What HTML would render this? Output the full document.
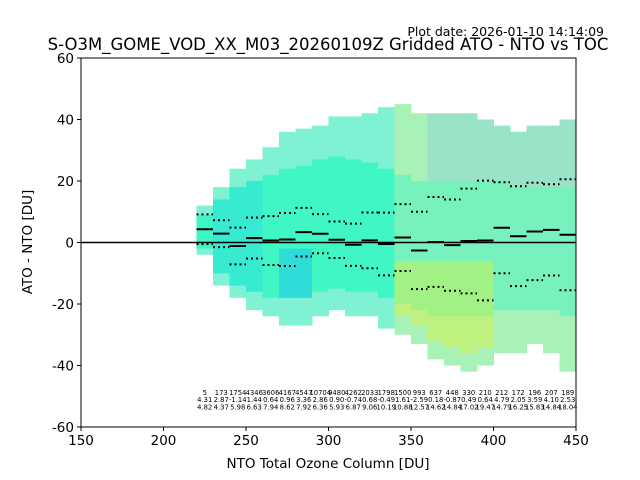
<!DOCTYPE html>
<html><head><meta charset="utf-8"><style>
body{margin:0;background:#fff;font-family:"DejaVu Sans","Liberation Sans",sans-serif}
svg{display:block}
</style></head><body>
<svg id="c" width="640" height="480" xmlns="http://www.w3.org/2000/svg"></svg>
<script>
const binCenters=[225,235,245,255,265,275,285,295,305,315,325,335,345,355,365,375,385,395,405,415,425,435,445];
const counts=[5,173,1754,4346,3606,4167,4547,10704,9480,4262,2033,1798,1500,993,637,448,330,210,212,172,196,207,189];
const medians=[4.31,2.87,-1.14,1.44,0.64,0.96,3.36,2.86,0.90,-0.74,0.68,-0.49,1.61,-2.59,0.18,-0.87,0.49,0.64,4.79,2.05,3.59,4.10,2.53];
const stds=[4.82,4.37,5.98,6.63,7.94,8.62,7.92,6.36,5.93,6.87,9.06,10.19,10.88,12.57,14.62,14.84,17.02,19.47,14.79,16.25,15.83,14.84,18.04];
const cloudTop=[12,18,24,27,31,36,37,38,41,41,42,44,45,42,42,42,42,40,38,36,38,38,40];
const cloudBottom=[-4,-14,-18,-22,-24,-27,-27,-24,-22,-24,-24,-28,-30,-33,-38,-40,-42,-40,-36,-36,-33,-36,-42];
const denseTop=[9,14,18,20,22,24,25,27,28,27,26,24,22,20,20,20,20,20,20,18,18,18,18];
const denseBottom=[-2,-10,-14,-16,-18,-18,-18,-16,-15,-16,-16,-18,-20,-22,-24,-24,-24,-24,-22,-22,-22,-22,-24];
const xTicks=[150,200,250,300,350,400,450];
const yTicks=[-60,-40,-20,0,20,40,60];
const L=81,R=576,T=58,B=427;
const X=v=>L+(v-150)/300*(R-L);
const Y=v=>B-(v+60)/120*(B-T);
const s=document.getElementById('c');const NS='http://www.w3.org/2000/svg';
function mk(t,a,p){const e=document.createElementNS(NS,t);for(const k in a)e.setAttribute(k,a[k]);(p||s).appendChild(e);return e;}
const clip=mk('clipPath',{id:'pc'});mk('rect',{x:L,y:T,width:R-L,height:B-T},clip);
const g=mk('g',{'clip-path':'url(#pc)'});

binCenters.forEach((c,i)=>{
 const x0=X(c-5),w=X(c+5)-X(c-5);
 const r1=mk('rect',{x:x0,y:Y(cloudTop[i]),width:w+0.5,height:Y(cloudBottom[i])-Y(cloudTop[i]),fill:i>11?'#a8f2b8':'#80f2d4'},g);
 
 const r2=mk('rect',{x:x0,y:Y(denseTop[i]),width:w+0.5,height:Y(denseBottom[i])-Y(denseTop[i]),fill:i>11?'#78f2bc':'#40f6c4'},g);
 
 if(i>=1&&i<=3){const r5=mk('rect',{x:x0,y:Y(denseTop[i]),width:w+0.5,height:Y(denseBottom[i])-Y(denseTop[i]),fill:'#20d0f0',opacity:0.3},g);
 }
 if(i>=5&&i<=6){const r3=mk('rect',{x:x0,y:Y(-2),width:w+0.5,height:Y(denseBottom[i])-Y(-2),fill:'#10b0ff',opacity:0.35},g);
 }
 if(i>=12&&i<=17){const r4=mk('rect',{x:x0,y:Y(-6),width:w+0.5,height:Y(cloudBottom[i]+6)-Y(-6),fill:'#e0f030',opacity:0.4},g);
 }
 if(i>=14){const r6=mk('rect',{x:x0,y:Y(cloudTop[i]),width:w+0.5,height:Y(denseTop[i])-Y(cloudTop[i]),fill:'#60a8ff',opacity:0.2},g);
 }
});
binCenters.forEach((c,i)=>{
 const x0=X(c-5),w=X(c+5)-X(c-5);const m=medians[i],sd=stds[i];
 [m+sd,m-sd].forEach(v=>{const l=mk('line',{x1:x0,x2:x0+w,y1:Y(v),y2:Y(v),stroke:'#000','stroke-width':2,'stroke-dasharray':'2,3'},g);
 });
 const ml=mk('line',{x1:x0,x2:x0+w,y1:Y(m),y2:Y(m),stroke:'#000','stroke-width':2},g);
 
});
const z=mk('line',{x1:L,x2:R,y1:Y(0),y2:Y(0),stroke:'#000','stroke-width':1.5});

binCenters.forEach((c,i)=>{
 [counts[i],medians[i].toFixed(2),stds[i].toFixed(2)].forEach((v,j)=>{
  const t=mk('text',{x:X(c),y:395+j*7.2,'font-size':6.8,'text-anchor':'middle',fill:'#000'});t.textContent=v;
  
 });
});
const fr=mk('rect',{x:L,y:T,width:R-L,height:B-T,fill:'none',stroke:'#000','stroke-width':1});

xTicks.forEach(v=>{mk('line',{x1:X(v),x2:X(v),y1:B,y2:B+4,stroke:'#000'});
 const t=mk('text',{x:X(v),y:B+18,'font-size':13.5,'text-anchor':'middle'});t.textContent=v;
 });
yTicks.forEach(v=>{mk('line',{x1:L-4,x2:L,y1:Y(v),y2:Y(v),stroke:'#000'});
 const t=mk('text',{x:L-7,y:Y(v)+5,'font-size':13.5,'text-anchor':'end'});t.textContent=v;
 });
let t=mk('text',{x:328,y:468,'font-size':13.5,'text-anchor':'middle'});t.textContent='NTO Total Ozone Column [DU]';

t=mk('text',{x:32,y:242,'font-size':13.5,'text-anchor':'middle',transform:'rotate(-90 32 242)'});t.textContent='ATO - NTO [DU]';

t=mk('text',{x:328,y:50,'font-size':16.5,'text-anchor':'middle'});t.textContent='S-O3M_GOME_VOD_XX_M03_20260109Z Gridded ATO - NTO vs TOC';

t=mk('text',{x:604,y:36,'font-size':12.5,'text-anchor':'end'});t.textContent='Plot date: 2026-01-10 14:14:09';

</script>
</body></html>
